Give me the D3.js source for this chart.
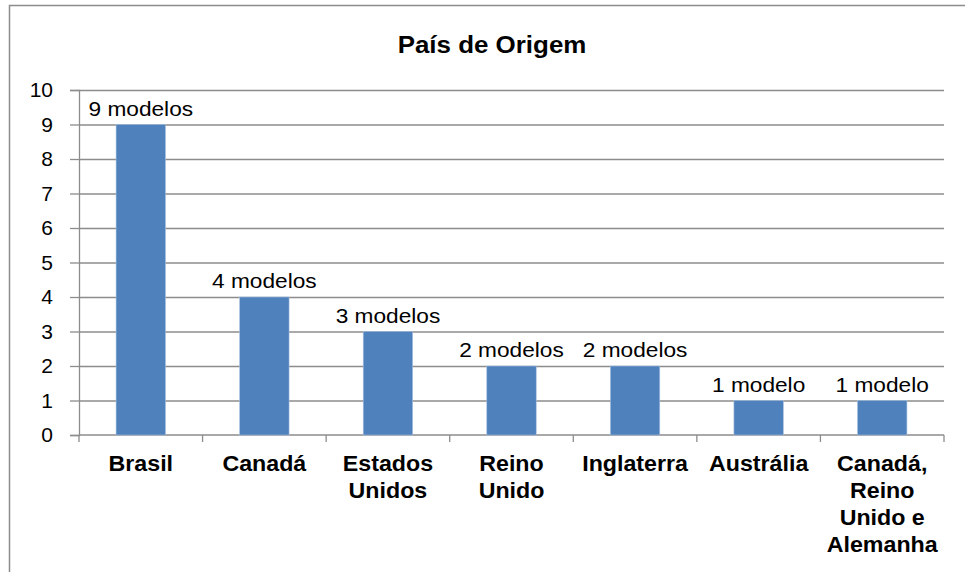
<!DOCTYPE html>
<html>
<head>
<meta charset="utf-8">
<script src="https://cdn.jsdelivr.net/npm/d3@7"></script>
<style>
  body { margin: 0; background: #fff; }
  svg { display: block; font-family: "Liberation Sans", Arial, sans-serif; }
</style>
</head>
<body>
<div id="chart"></div>
<script>
// data
var paises = ["Brasil", "Canadá", "Estados Unidos", "Reino Unido", "Inglaterra", "Austrália", "Canadá, Reino Unido e Alemanha"];
var linhas = [["Brasil"], ["Canadá"], ["Estados", "Unidos"], ["Reino", "Unido"], ["Inglaterra"], ["Austrália"], ["Canadá,", "Reino", "Unido e", "Alemanha"]];
var modelos = [9, 4, 3, 2, 2, 1, 1];
var rotulos = ["9 modelos", "4 modelos", "3 modelos", "2 modelos", "2 modelos", "1 modelo", "1 modelo"];
var yTicks = [0, 1, 2, 3, 4, 5, 6, 7, 8, 9, 10];

var width = 965, height = 572;
var margin = { top: 90, right: 21, bottom: 137, left: 79 };
var stretch = 1.08; // text in the picture is a bit wide

var svg = d3.select("#chart")
    .append("svg")
    .attr("width", width)
    .attr("height", height);

// outer chart border
svg.append("rect")
    .attr("x", 9.5)
    .attr("y", 5.5)
    .attr("width", 1000)
    .attr("height", 1000)
    .attr("fill", "none")
    .attr("stroke", "#8c8c8c")
    .attr("stroke-width", 1.5);

var x = d3.scaleBand()
    .domain(paises)
    .range([margin.left, width - margin.right])
    .paddingInner(0.6)
    .paddingOuter(0.3);

var y = d3.scaleLinear()
    .domain([0, 10])
    .range([height - margin.bottom, margin.top]);

// gridlines
svg.append("g")
    .attr("transform", `translate(${margin.left},0)`)
    .call(d3.axisLeft(y).tickValues(yTicks.slice(1)).tickSize(-(width - margin.left - margin.right)).tickFormat(""))
    .call(g => g.select(".domain").remove())
    .selectAll("line")
    .attr("stroke", "#8c8c8c")
    .attr("stroke-width", 1.3);

// y axis
var yAxis = svg.append("g")
    .attr("transform", `translate(${margin.left},0)`)
    .call(d3.axisLeft(y).tickValues(yTicks).tickSize(9).tickPadding(17));
yAxis.select(".domain").attr("stroke", "#8c8c8c").attr("stroke-width", 1.3);
yAxis.selectAll("line").attr("stroke", "#8c8c8c").attr("stroke-width", 1.3);
yAxis.selectAll("text")
    .attr("font-size", 21)
    .attr("font-family", "Liberation Sans, Arial, sans-serif")
    .attr("fill", "#000");

// x axis line and boundary ticks
var base = y(0);
svg.append("line")
    .attr("x1", margin.left).attr("x2", width - margin.right)
    .attr("y1", base).attr("y2", base)
    .attr("stroke", "#8c8c8c").attr("stroke-width", 1.3);

svg.append("g")
    .selectAll("line")
    .data(d3.range(paises.length + 1))
    .enter()
    .append("line")
    .attr("x1", i => margin.left + i * x.step())
    .attr("x2", i => margin.left + i * x.step())
    .attr("y1", base)
    .attr("y2", base + 7)
    .attr("stroke", "#8c8c8c")
    .attr("stroke-width", 1.3);

// bars
svg.append("g")
    .selectAll("rect")
    .data(modelos)
    .enter()
    .append("rect")
    .attr("x", (d, i) => x(paises[i]))
    .attr("y", d => y(d))
    .attr("width", x.bandwidth())
    .attr("height", d => base - y(d))
    .attr("fill", "#4f81bd")
    .attr("stroke", "#a7c0de")
    .attr("stroke-width", 0.6);

// value labels
svg.append("g")
    .selectAll("text")
    .data(modelos)
    .enter()
    .append("text")
    .attr("transform", (d, i) => `translate(${x(paises[i]) + x.bandwidth() / 2},${y(d) - 9}) scale(${stretch},1)`)
    .attr("text-anchor", "middle")
    .attr("font-size", 21)
    .attr("fill", "#000")
    .text((d, i) => rotulos[i]);

// category labels
var cat = svg.append("g")
    .selectAll("text")
    .data(paises)
    .enter()
    .append("text")
    .attr("transform", d => `translate(${x(d) + x.bandwidth() / 2},${base + 36}) scale(${stretch},1)`)
    .attr("text-anchor", "middle")
    .attr("font-size", 21.5)
    .attr("font-weight", "bold")
    .attr("fill", "#000");

cat.selectAll("tspan")
    .data((d, i) => linhas[i])
    .enter()
    .append("tspan")
    .attr("x", 0)
    .attr("y", (d, j) => j * 27)
    .text(d => d);

// title
svg.append("text")
    .attr("transform", `translate(492,53) scale(${stretch},1)`)
    .attr("text-anchor", "middle")
    .attr("font-size", 24)
    .attr("font-weight", "bold")
    .attr("fill", "#000")
    .text("País de Origem");
</script>
</body>
</html>
